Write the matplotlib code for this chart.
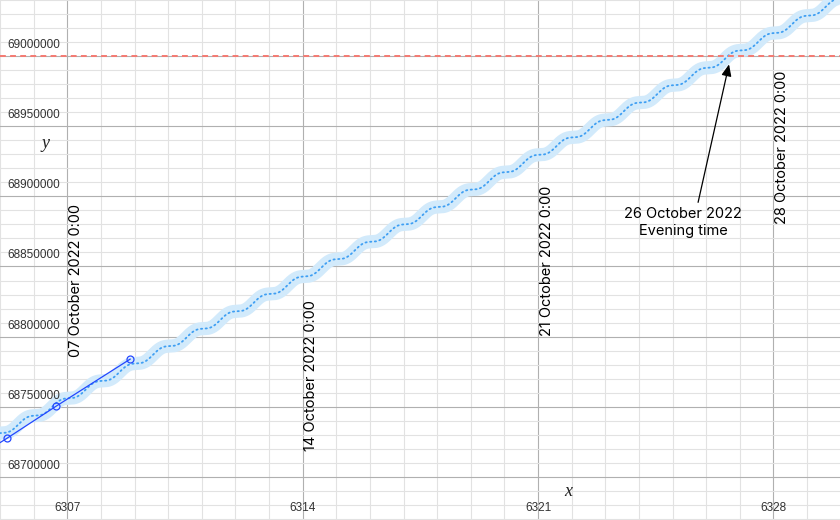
import numpy as np
import matplotlib
matplotlib.use('Agg')
import matplotlib.pyplot as plt
import matplotlib.transforms as mtransforms

# curve: level at day 6307, rise per day, daily swing
base_day = 6307
base_value = 68755500
rise_per_day = 12390
swing = 1850
flat_phase = 0.55          # plateaus sit just after each whole day

# measured points (blue segment)
meas_x = [6304.8, 6305.22, 6306.67, 6308.87]
meas_y = [68721500, 68727800, 68750500, 68784000]

# threshold
limit_y = 69000000

# date marks
date_x = [6307, 6314, 6321, 6328]
date_txt = ['07 October 2022 0:00', '14 October 2022 0:00',
            '21 October 2022 0:00', '28 October 2022 0:00']
date_y = [68839900, 68772600, 68854100, 68934900]

x_ticks = [6307, 6314, 6321, 6328]
y_ticks = [68700000, 68750000, 68800000, 68850000, 68900000, 68950000, 69000000]

note_txt = '26 October 2022\nEvening time'
note_at = (6325.31, 68881500)
arrow_tip = (6326.68, 68994000)
arrow_tail = (6325.76, 68895700)

xlim = (6305.0, 6329.98)
ylim = (68669400, 69039850)

fig = plt.figure(figsize=(8.4, 5.2), dpi=100)
ax = fig.add_axes([0, 0, 1, 1])
ax.set_xlim(*xlim)
ax.set_ylim(*ylim)
for s in ax.spines.values():
    s.set_visible(False)
ax.set_xticks([])
ax.set_yticks([])

# grid
for d in np.arange(6305, 6331):
    major = (d - 6307) % 7 == 0
    ax.axvline(d, color='#b0b0b0' if major else '#e2e2e2', lw=0.8, zorder=0)
for v in np.arange(68670000, 69040001, 10000):
    major = v % 50000 == 0
    ax.axhline(v, color='#b0b0b0' if major else '#e2e2e2', lw=0.8, zorder=0)

# wavy curve
xs = np.linspace(xlim[0] - 0.5, xlim[1] + 0.5, 3000)
ys = base_value + rise_per_day * (xs - base_day) + swing * np.sin(2 * np.pi * (xs - flat_phase))
ax.plot(xs, ys, color='#d2eafb', lw=9.5, solid_capstyle='round', zorder=2)
ax.plot(xs, ys, color='#3f9ff3', lw=1.3, linestyle=(0, (0.7, 1.9)),
        dash_capstyle='round', zorder=3)

# threshold line
ax.axhline(limit_y, color='#f47a72', lw=1.4, linestyle=(0, (3.0, 2.2)), zorder=3)

# measured segment
ax.plot(meas_x, meas_y, color='#2347ff', lw=0.9, marker='o', markersize=5,
        markerfacecolor='none', markeredgecolor='#2347ff', markeredgewidth=0.9, zorder=4)

# tick labels drawn inside
tr_y = mtransforms.blended_transform_factory(ax.transAxes, ax.transData)
for v in y_ticks:
    ax.annotate(str(v), xy=(7 / 840, v), xycoords=tr_y, xytext=(0, 5),
                textcoords='offset pixels', ha='left', va='bottom',
                fontsize=8.5, color='#333333', family='Liberation Sans')
tr_x = mtransforms.blended_transform_factory(ax.transData, ax.transAxes)
for d in x_ticks:
    ax.text(d, 12 / 520, str(d), transform=tr_x, ha='center', va='center',
            fontsize=8.5, color='#333333', family='Liberation Sans')

# axis letters
ax.text(45 / 840, 1 - 143 / 520, 'y', transform=ax.transAxes, ha='center', va='center',
        fontsize=13, style='italic', family='Liberation Serif', color='#222222')
ax.text(568 / 840, 1 - 491 / 520, 'x', transform=ax.transAxes, ha='center', va='center',
        fontsize=13, style='italic', family='Liberation Serif', color='#222222')

# date labels
for d, t, v in zip(date_x, date_txt, date_y):
    ax.annotate(t, xy=(d, v), xytext=(1.5, 0), textcoords='offset pixels',
                rotation=90, ha='left', va='center', fontsize=10.5, family='Inter')

# note with arrow
ax.text(note_at[0], note_at[1], note_txt, ha='center', va='center', fontsize=10.5,
        family='Inter', linespacing=1.3)
ax.annotate('', xy=arrow_tip, xytext=arrow_tail,
            arrowprops=dict(arrowstyle='-|>,head_length=0.7,head_width=0.3',
                            color='black', lw=0.9, shrinkA=0, shrinkB=0))

fig.savefig('out.png', dpi=100)
